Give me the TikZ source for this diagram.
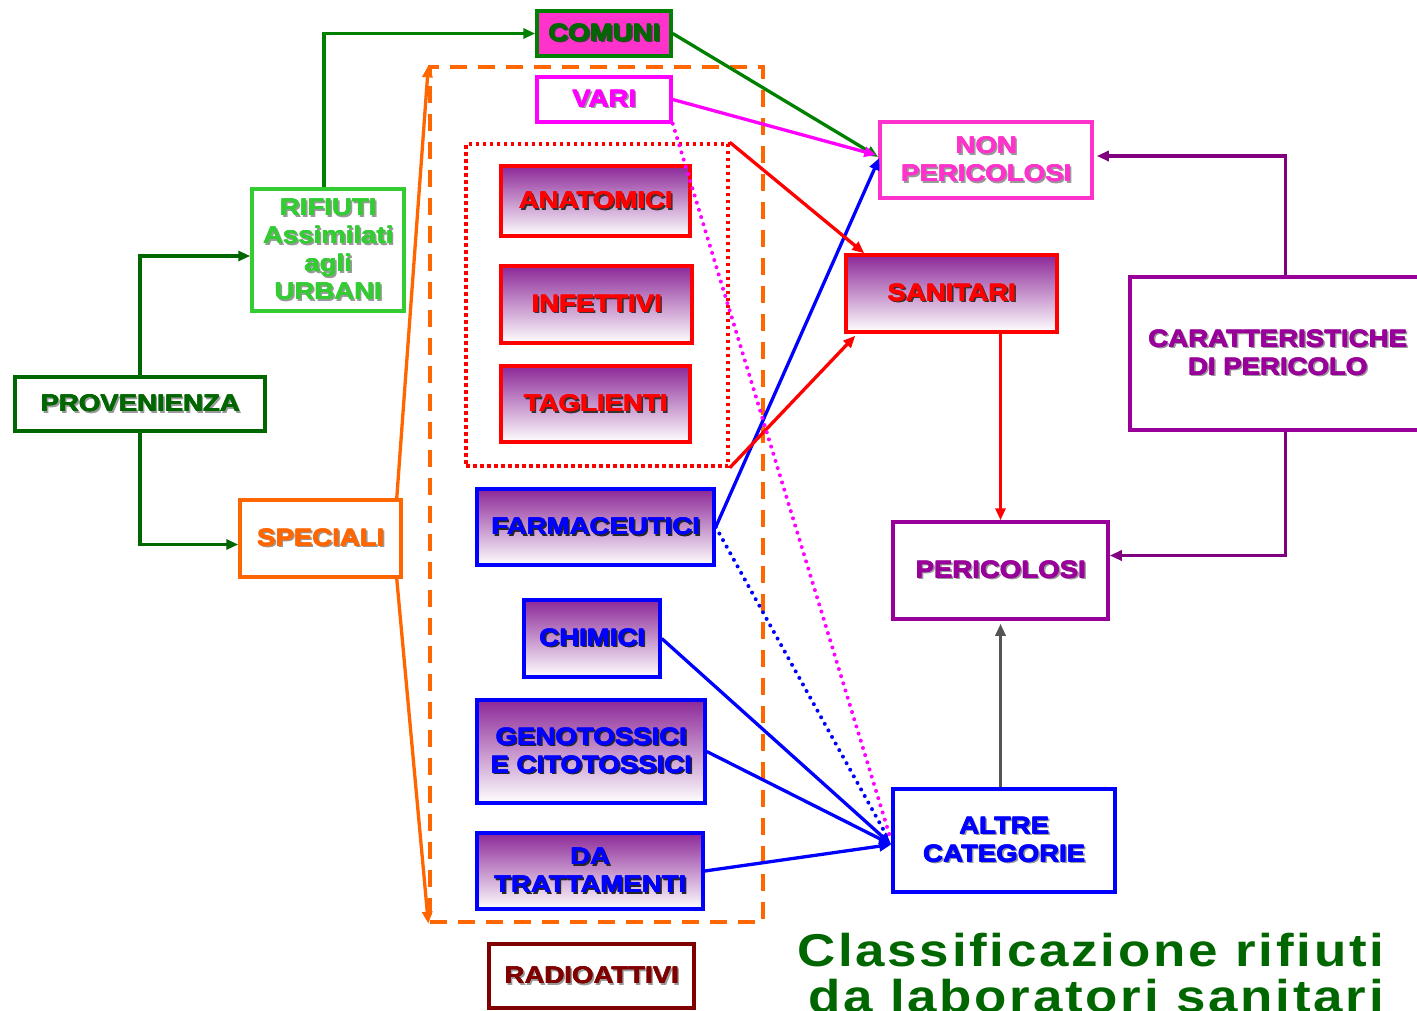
\documentclass[tikz,border=0pt]{standalone}
\usepackage{fontspec}
\setmainfont{Liberation Sans}
\newfontfamily\blk{Liberation Sans}[BoldFeatures={FakeStretch=1.15}]
\newfontfamily\ttlfont{Liberation Sans}[BoldFeatures={FakeStretch=1.15,LetterSpace=6}]
\usetikzlibrary{arrows.meta,calc}
\definecolor{dkgreen}{HTML}{006600}
\definecolor{midgreen}{HTML}{008000}
\definecolor{ltgreen}{HTML}{33CC33}
\definecolor{orng}{HTML}{FF6600}
\definecolor{mgnt}{HTML}{FF00FF}
\definecolor{pnk}{HTML}{FF33CC}
\definecolor{rd}{HTML}{FF0000}
\definecolor{bl}{HTML}{0000FF}
\definecolor{purp}{HTML}{990099}
\definecolor{purparr}{HTML}{800080}
\definecolor{grayarr}{HTML}{555555}
\definecolor{dkred}{HTML}{800000}
\definecolor{gradtop}{RGB}{140,40,152}
% text with drop shadow, thickened to imitate a black weight
\newcommand\shd[2][black!40]{\leavevmode
  \rlap{\color{#1}\kern1.6pt\raisebox{-1.6pt}{#2}}%
  \rlap{\color{#1}\kern2.2pt\raisebox{-1.6pt}{#2}}%
  \rlap{\kern0.6pt\raisebox{0.4pt}{#2}}%
  \rlap{\kern0.6pt{#2}}%
  \rlap{\raisebox{0.4pt}{#2}}%
  #2}
\begin{document}
\begin{tikzpicture}[x=1pt,y=-1pt,
  box/.style={draw, line width=3.5pt, inner sep=0pt, align=center,
    font=\blk\bfseries\fontsize{24}{28}\selectfont},
  grad/.style={box, top color=gradtop, bottom color=white},
  arr/.style={line width=3.3pt, -{Triangle[length=12pt,width=10pt]}},
  dotline/.style={line width=4pt, line cap=round, dash pattern=on 0pt off 7.5pt},
  ttl/.style={inner sep=0pt, text=dkgreen, font=\ttlfont\bfseries\fontsize{46}{47}\selectfont}]
\useasboundingbox (0,0) rectangle (1417,1010);
% group frames
\node[draw=orng, line width=3.3pt, dash pattern=on 17pt off 11pt, minimum width=333pt, minimum height=855pt, inner sep=0pt] (obox) at (596.5,494.5) {};
\node[draw=rd, line width=3.5pt, dash pattern=on 3.5pt off 3.5pt, minimum width=262pt, minimum height=322pt, inner sep=0pt] (redgrp) at (597,305) {};
% left column
\node[box, draw=dkgreen, text=dkgreen, minimum width=250pt, minimum height=54pt] (prov) at (140,404) {\shd{PROVENIENZA}};
\node[box, draw=ltgreen, text=ltgreen, minimum width=152pt, minimum height=122pt] (rif) at (328,250) {\shd{RIFIUTI}\\\shd{Assimilati}\\\shd{agli}\\\shd{URBANI}};
\node[box, draw=orng, text=orng, minimum width=161pt, minimum height=77pt] (spec) at (320.5,538.5) {\shd{SPECIALI}};
% middle column
\node[box, draw=midgreen, fill=pnk, text=dkgreen, minimum width=134pt, minimum height=45pt] (comuni) at (604,33.5) {\shd[black!75]{COMUNI}};
\node[box, draw=mgnt, text=mgnt, minimum width=134pt, minimum height=45pt] (vari) at (604,99.5) {\shd{VARI}};
\node[grad, draw=rd, text=rd, minimum width=189pt, minimum height=70pt] (anat) at (595.5,201) {\shd[black!80]{ANATOMICI}};
\node[grad, draw=rd, text=rd, minimum width=191pt, minimum height=77pt] (infe) at (596.5,304.5) {\shd[black!80]{INFETTIVI}};
\node[grad, draw=rd, text=rd, minimum width=189pt, minimum height=76pt] (tagl) at (595.5,404) {\shd[black!80]{TAGLIENTI}};
\node[grad, draw=bl, text=bl, minimum width=237pt, minimum height=76pt] (farm) at (595.5,527) {\shd[black!85]{FARMACEUTICI}};
\node[grad, draw=bl, text=bl, minimum width=136pt, minimum height=77pt] (chim) at (592,638.5) {\shd[black!85]{CHIMICI}};
\node[grad, draw=bl, text=bl, minimum width=228pt, minimum height=103pt] (geno) at (591,751.5) {\shd[black!85]{GENOTOSSICI}\\\shd[black!85]{E CITOTOSSICI}};
\node[grad, draw=bl, text=bl, minimum width=226pt, minimum height=76pt] (datr) at (590,871) {\shd[black!85]{DA}\\\shd[black!85]{TRATTAMENTI}};
\node[box, draw=dkred, text=dkred, minimum width=205pt, minimum height=64pt] (radio) at (591.5,976) {\shd{RADIOATTIVI}};
% right column
\node[box, draw=pnk, text=pnk, minimum width=212pt, minimum height=76pt] (nonper) at (986,160) {\shd{NON}\\\shd{PERICOLOSI}};
\node[grad, draw=rd, text=rd, minimum width=211pt, minimum height=77pt] (san) at (951.5,293.5) {\shd[black!80]{SANITARI}};
\node[box, draw=purp, text=purp, minimum width=295pt, minimum height=153pt] (caratt) at (1277.5,353.5) {\shd{CARATTERISTICHE}\\\shd{DI PERICOLO}};
\node[box, draw=purp, text=purp, minimum width=215pt, minimum height=97pt] (per) at (1000.5,570.5) {\shd{PERICOLOSI}};
\node[box, draw=bl, text=bl, minimum width=222pt, minimum height=103pt] (altre) at (1004,840.5) {\shd{ALTRE}\\\shd{CATEGORIE}};
% title
\node[ttl, anchor=base west] (t1) at (797,966) {Classificazione rifiuti};
\node[ttl, anchor=base west] (t2) at (808,1012) {da laboratori sanitari};
% connectors
\draw[arr, dkgreen] (prov.north) |- ($(rif.west)+(0,6)$);
\draw[arr, dkgreen] (prov.south) |- ($(spec.west)+(0,6)$);
\draw[arr, midgreen] ($(rif.north)+(-4,0)$) |- (comuni.west);
\draw[arr, midgreen] (comuni.east) -- ($(nonper.west)+(0,-3)$);
\draw[arr, mgnt] (vari.east) -- ($(nonper.west)+(-2,-5)$);
\draw[arr, bl] (farm.east) -- ($(nonper.west)+(1,-2)$);
\draw[arr, rd] (redgrp.north east) -- ($(san.north west)+(20,0)$);
\draw[arr, rd] (redgrp.south east) -- ($(san.south west)+(11,2)$);
\draw[arr, rd] (per.north |- san.south) -- (per.north);
\draw[arr, purparr] ($(caratt.north)+(8,0)$) |- ($(nonper.east)+(3,-4)$);
\draw[arr, purparr] ($(caratt.south)+(8,0)$) |- ($(per.east)+(0,-15)$);
\draw[arr, grayarr, shorten >=3pt] (per.south |- altre.north) -- (per.south);
\draw[arr, bl] (chim.east) -- ($(altre.west)+(0,4)$);
\draw[arr, bl] (geno.east) -- ($(altre.west)+(0,4)$);
\draw[arr, bl] (datr.east) -- ($(altre.west)+(0,4)$);
\draw[dotline, bl] (farm.east) -- ($(altre.west)+(-3,-2)$);
\draw[dotline, mgnt] (vari.south east) -- ($(altre.west)+(-1,-3)$);
\draw[arr, orng] ($(spec.north east)+(-6,0)$) -- (obox.north west);
\draw[arr, orng] ($(spec.south east)+(-6,0)$) -- (obox.south west);
\end{tikzpicture}
\end{document}
